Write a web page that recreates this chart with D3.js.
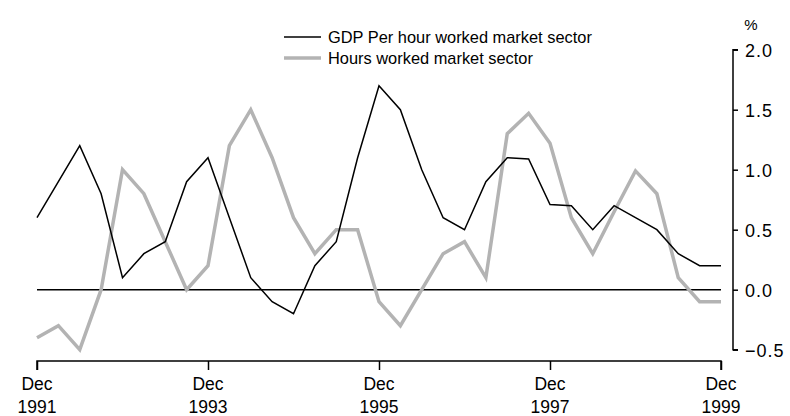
<!DOCTYPE html>
<html>
<head>
<meta charset="utf-8">
<script src="https://cdn.jsdelivr.net/npm/d3@7"></script>
<style>
  body { margin: 0; background: #fff; }
  svg { display: block; }
  text { font-family: "Liberation Sans", Arial, sans-serif; fill: #000; }
</style>
</head>
<body>
<svg class="chart" width="790" height="416"></svg>
<script>
// quarterly, Dec 1991 .. Dec 1999
var quarters = d3.range(33);
var gdpPerHour = [0.6, 0.9, 1.2, 0.8, 0.1, 0.3, 0.4, 0.9, 1.1, 0.6, 0.1, -0.1, -0.2, 0.2, 0.4, 1.1,
                  1.7, 1.5, 1.0, 0.6, 0.5, 0.9, 1.1, 1.09, 0.71, 0.7, 0.5, 0.7, 0.6, 0.5, 0.3, 0.2, 0.2];
var hoursWorked = [-0.4, -0.3, -0.5, 0.0, 1.0, 0.8, 0.4, 0.0, 0.2, 1.2, 1.5, 1.1, 0.6, 0.3, 0.5, 0.5,
                   -0.1, -0.3, 0.0, 0.3, 0.4, 0.1, 1.3, 1.47, 1.22, 0.6, 0.3, 0.65, 0.99, 0.8, 0.1, -0.1, -0.1];
var xTicks = [0, 8, 16, 24, 32];
var xTickLabels = [["Dec", "1991"], ["Dec", "1993"], ["Dec", "1995"], ["Dec", "1997"], ["Dec", "1999"]];
var yTicks = [-0.5, 0, 0.5, 1.0, 1.5, 2.0];
var seriesNames = ["GDP Per hour worked market sector", "Hours worked market sector"];

var svg = d3.select("svg.chart");

var x = d3.scaleLinear().domain([0, 32]).range([37, 721]);
var y = d3.scaleLinear().domain([-0.5, 2.0]).range([349.7, 49.7]);

// y axis on the right
var yAxis = d3.axisRight(y)
    .tickValues(yTicks)
    .tickSize(5)
    .tickPadding(7)
    .tickFormat(function(d) { return d3.format(".1f")(d).replace("-", "\u2013"); });
var gy = svg.append("g")
    .attr("transform", "translate(733,0)")
    .call(yAxis);
gy.select(".domain").attr("stroke", "#000").attr("stroke-width", 1.5)
    .attr("d", "M5," + y(2.0) + "H0V" + y(-0.5) + "H5");
gy.selectAll(".tick line").attr("stroke", "#000").attr("stroke-width", 1.5);
gy.selectAll(".tick text").style("font-size", "18px").style("letter-spacing", "1px").attr("dy", "0.36em");

svg.append("text")
    .attr("x", 751).attr("y", 30)
    .attr("text-anchor", "middle")
    .style("font-size", "15px")
    .text("%");

// x axis
var xAxis = d3.axisBottom(x)
    .tickValues(xTicks)
    .tickSize(9)
    .tickFormat("");
var gx = svg.append("g")
    .attr("transform", "translate(0,361)")
    .call(xAxis);
gx.select(".domain").attr("stroke", "#000").attr("stroke-width", 1.5)
    .attr("d", "M" + x(0) + ",9V0H" + x(32) + "V9");
gx.selectAll(".tick line").attr("stroke", "#000").attr("stroke-width", 1.5);

xTicks.forEach(function(t, i) {
  svg.append("text")
      .attr("x", x(t)).attr("y", 390)
      .attr("text-anchor", "middle")
      .style("font-size", "17.5px")
      .text(xTickLabels[i][0]);
  svg.append("text")
      .attr("x", x(t)).attr("y", 413)
      .attr("text-anchor", "middle")
      .style("font-size", "17.5px")
      .text(xTickLabels[i][1]);
});

// zero line
svg.append("line")
    .attr("x1", x(0)).attr("x2", x(32))
    .attr("y1", y(0)).attr("y2", y(0))
    .attr("stroke", "#000").attr("stroke-width", 1.5);

var line = function(vals) {
  return d3.line()
    .x(function(d) { return x(d); })
    .y(function(d) { return y(vals[d]); })(quarters);
};

svg.append("path")
    .attr("d", line(hoursWorked))
    .attr("fill", "none")
    .attr("stroke", "#b3b3b3")
    .attr("stroke-width", 3.5)
    .attr("stroke-linejoin", "miter");

svg.append("path")
    .attr("d", line(gdpPerHour))
    .attr("fill", "none")
    .attr("stroke", "#000")
    .attr("stroke-width", 1.5);

// legend
var legend = svg.append("g");
var legendStyles = [{c: "#000", w: 1.5}, {c: "#b3b3b3", w: 3.5}];
seriesNames.forEach(function(name, i) {
  var yy = 37 + i * 21;
  legend.append("line")
      .attr("x1", 284).attr("x2", 321)
      .attr("y1", yy).attr("y2", yy)
      .attr("stroke", legendStyles[i].c)
      .attr("stroke-width", legendStyles[i].w);
  legend.append("text")
      .attr("x", 328).attr("y", yy + 6)
      .style("font-size", "16.4px")
      .text(name);
});
</script>
</body>
</html>
